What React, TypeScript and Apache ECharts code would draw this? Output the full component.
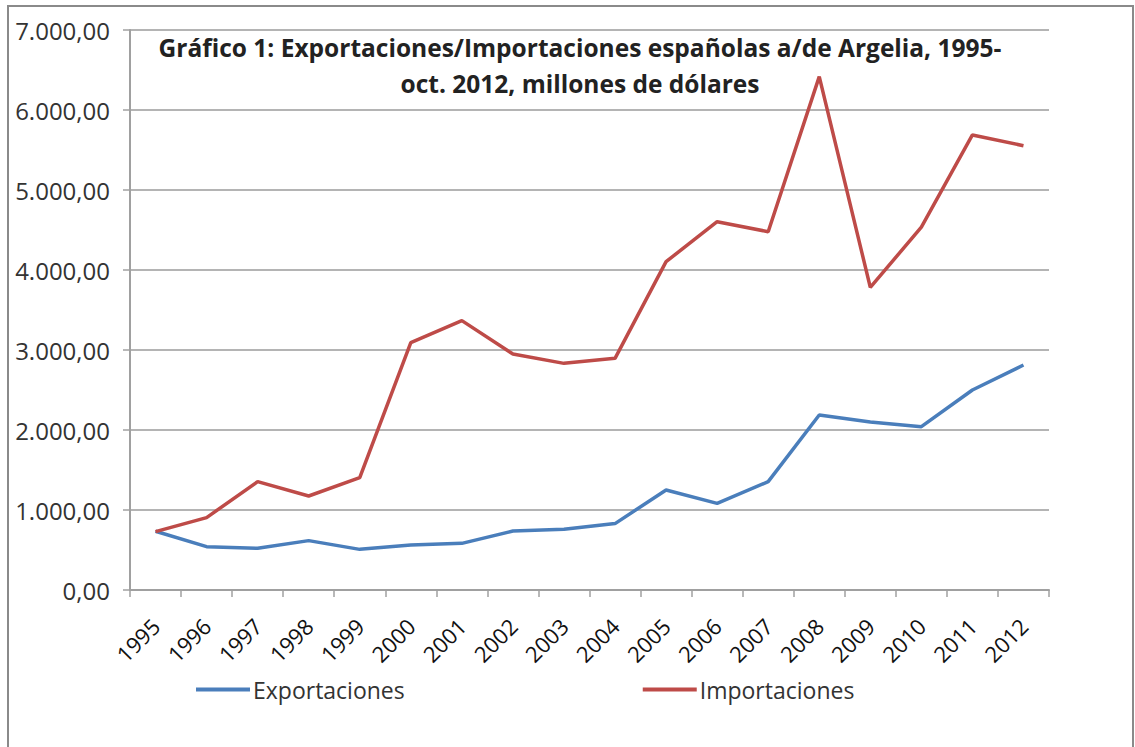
import React, { useEffect, useRef } from "react";
import * as echarts from "echarts";

const years = ["1995","1996","1997","1998","1999","2000","2001","2002","2003","2004","2005","2006","2007","2008","2009","2010","2011","2012"];
const exportaciones = [735, 542, 521, 617, 508, 562, 583, 737, 758, 830, 1250, 1083, 1354, 2187, 2100, 2042, 2500, 2812];
const importaciones = [729, 905, 1354, 1175, 1404, 3092, 3367, 2950, 2833, 2896, 4104, 4604, 4479, 6417, 3783, 4535, 5688, 5554];
const yTicks = { min: 0, max: 7000, interval: 1000 };
const titleText = "Gráfico 1: Exportaciones/Importaciones españolas a/de Argelia, 1995-\noct. 2012, millones de dólares";

function fmt(v: number): string {
  const s = Math.round(v).toString();
  const withDots = s.replace(/\B(?=(\d{3})+(?!\d))/g, ".");
  return withDots + ",00";
}

export default function App() {
  const ref = useRef<HTMLDivElement>(null);
  useEffect(() => {
    if (!ref.current) return;
    const chart = echarts.init(ref.current, null, { renderer: "svg" });
    const font = "'Open Sans', Lato, sans-serif";
    chart.setOption({
      animation: false,
      backgroundColor: "#ffffff",
      textStyle: { fontFamily: font },
      title: {
        text: titleText,
        left: 575,
        top: 24,
        textAlign: "center",
        textStyle: { fontFamily: font, fontSize: 24.5, fontWeight: "bold", color: "#222", lineHeight: 36 },
      },
      graphic: [
        {
          type: "rect",
          shape: { x: 8, y: 6, width: 1125, height: 760 },
          style: { fill: "none", stroke: "#8a8a8a", lineWidth: 2 },
          silent: true,
          z: -1,
        },
      ],
      legend: {
        left: 196,
        top: 678,
        padding: 0,
        itemWidth: 54,
        itemHeight: 4,
        itemGap: 238,
        icon: "rect",
        textStyle: { fontFamily: font, fontSize: 23, color: "#333", padding: [0, 0, 0, -2] },
        data: ["Exportaciones", "Importaciones"],
      },
      grid: { left: 130, right: 86, top: 30, bottom: 157, containLabel: false },
      xAxis: {
        type: "category",
        data: years,
        boundaryGap: true,
        axisLine: { show: true, lineStyle: { color: "#a0a0a0", width: 2 } },
        axisTick: { show: true, alignWithLabel: false, length: 7, lineStyle: { color: "#a0a0a0", width: 1.5 } },
        axisLabel: { rotate: 45, fontSize: 22, color: "#111", margin: 32, fontFamily: font, interval: 0 },
        splitLine: { show: false },
      },
      yAxis: {
        type: "value",
        min: yTicks.min,
        max: yTicks.max,
        interval: yTicks.interval,
        axisLine: { show: true, lineStyle: { color: "#a0a0a0", width: 2 } },
        axisTick: { show: true, length: 7, lineStyle: { color: "#a0a0a0", width: 1.5 } },
        axisLabel: { fontSize: 24, color: "#333", margin: 20, fontFamily: font, formatter: (v: number) => fmt(v) },
        splitLine: { show: true, lineStyle: { color: "#b4b4b4", width: 2 } },
      },
      series: [
        {
          name: "Exportaciones",
          type: "line",
          data: exportaciones,
          showSymbol: false,
          symbol: "none",
          lineStyle: { color: "#4a7ebb", width: 3.5 },
          itemStyle: { color: "#4a7ebb" },
        },
        {
          name: "Importaciones",
          type: "line",
          data: importaciones,
          showSymbol: false,
          symbol: "none",
          lineStyle: { color: "#be4b48", width: 3.5 },
          itemStyle: { color: "#be4b48" },
        },
      ],
    });
    return () => chart.dispose();
  }, []);
  return (
    <div
      ref={ref}
      style={{ position: "fixed", left: 0, top: 0, width: 1135, height: 747 }}
    />
  );
}
